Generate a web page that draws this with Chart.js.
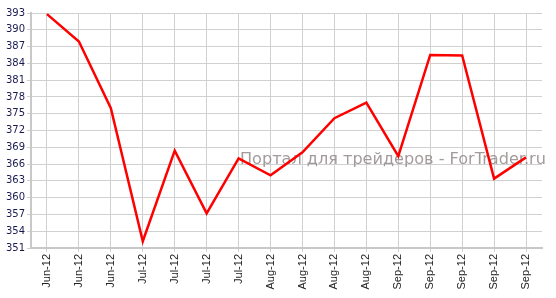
<!DOCTYPE html>
<html>
<head>
<meta charset="utf-8">
<script src="https://cdn.jsdelivr.net/npm/chart.js@4/dist/chart.umd.min.js"></script>
<style>
  html, body { margin: 0; padding: 0; background: #ffffff; }
  #wrap { width: 556px; height: 298px; position: relative; }
</style>
</head>
<body>
<div id="wrap"><canvas id="c" width="556" height="298"></canvas></div>
<script>
const categories = ["Jun-12","Jun-12","Jun-12","Jul-12","Jul-12","Jul-12","Jul-12","Aug-12","Aug-12","Aug-12","Aug-12","Sep-12","Sep-12","Sep-12","Sep-12","Sep-12"];
const values = [392.8, 387.9, 376.0, 352.2, 368.4, 357.2, 367.0, 364.0, 368.1, 374.2, 377.0, 367.4, 385.5, 385.4, 363.4, 367.2];
const yMin = 351;
const yMax = 393;
const yStep = 3;
const watermark = "Портал для трейдеров - ForTrader.ru";

const watermarkPlugin = {
  id: 'watermark',
  beforeDatasetsDraw(chart) {
    const ctx = chart.ctx;
    ctx.save();
    let size = 15;
    ctx.font = size + 'px "DejaVu Sans"';
    const w = ctx.measureText(watermark).width;
    size = size * 306 / w;
    ctx.font = size + 'px "DejaVu Sans"';
    ctx.fillStyle = 'rgba(140,130,130,0.8)';
    ctx.textBaseline = 'alphabetic';
    ctx.textAlign = 'left';
    ctx.fillText(watermark, 240, 164);
    ctx.restore();
  }
};

new Chart(document.getElementById('c'), {
  type: 'line',
  data: {
    labels: categories,
    datasets: [{
      data: values,
      borderColor: '#ff0000',
      borderWidth: 2.5,
      pointRadius: 0,
      tension: 0,
      fill: false
    }]
  },
  options: {
    responsive: false,
    animation: false,
    layout: { padding: { top: 13, right: 14, bottom: 0, left: 0 } },
    plugins: { legend: { display: false }, tooltip: { enabled: false } },
    scales: {
      x: {
        offset: true,
        afterFit(scale) { scale.height = 50; },
        grid: { color: '#d0d0d0', lineWidth: 1, tickLength: 4, offset: false },
        border: { color: '#c8c8c8', width: 2 },
        ticks: {
          autoSkip: false,
          maxRotation: 90,
          minRotation: 90,
          padding: 2,
          color: '#222222',
          font: { family: '"Liberation Sans"', size: 11 }
        }
      },
      y: {
        min: yMin,
        max: yMax,
        afterFit(scale) { scale.width = 31; },
        grid: { color: '#d0d0d0', lineWidth: 1, tickLength: 4 },
        border: { color: '#c8c8c8', width: 2 },
        ticks: {
          stepSize: yStep,
          padding: 2,
          color: '#1a1a50',
          font: { family: '"DejaVu Sans"', size: 10 }
        }
      }
    }
  },
  plugins: [watermarkPlugin]
});
</script>
</body>
</html>
